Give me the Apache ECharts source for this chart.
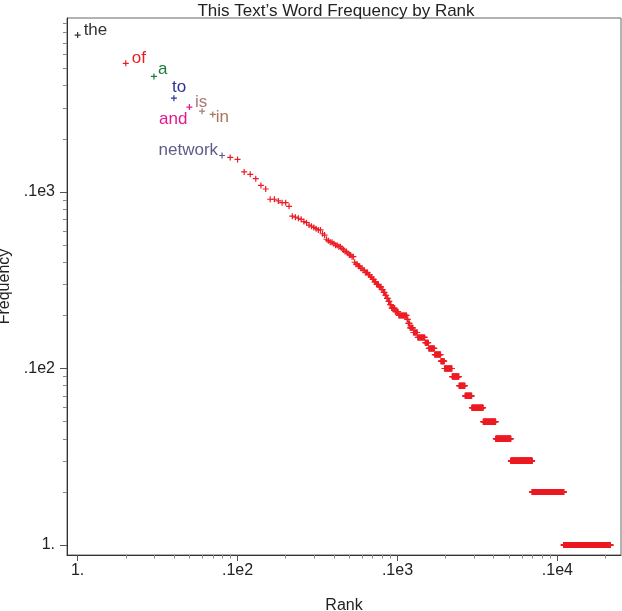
<!DOCTYPE html>
<html>
<head>
<meta charset="utf-8">
<title>This Text's Word Frequency by Rank</title>
<script src="https://cdn.jsdelivr.net/npm/echarts@6/dist/echarts.min.js"></script>
<style>
    html, body { margin: 0; padding: 0; background: #fff; }
    #myChart { width: 622px; height: 611px; }
</style>
</head>
<body>
<div id="myChart"></div>
<script>
/* labelled words, ranks 1..8 */
var topWords = ['the', 'of', 'a', 'to', 'and', 'is', 'in', 'network'];
var topColors = ['#333333', '#ed1c24', '#1b7a3c', '#2e3192', '#e6198a', '#a87878', '#a8745a', '#5d5c8a'];

/* frequency of each word, rank 1 to 91 */
var headFreq = [775, 536, 452, 340, 303, 287, 275, 161, 157, 153, 130, 126, 119, 109, 104, 91, 91, 89, 87, 87, 83,
    73, 72, 71, 70, 68, 67, 65, 64, 63, 62, 61, 61, 58, 57, 54, 53, 52, 52, 51, 50,
    50, 49, 49, 48, 47, 46, 46, 45, 44, 44, 43, 43, 40, 39, 39, 38, 38, 37, 37, 36,
    36, 35, 35, 35, 34, 34, 33, 33, 32, 32, 31, 31, 30, 30, 30, 29, 29, 29, 28, 28,
    27, 27, 26, 26, 25, 25, 24, 24, 23, 23];

/* below that: how many words share each frequency */
var tailFreq = [22, 21, 20, 19, 18, 17, 16, 15, 14, 13, 12, 11, 10, 9, 8, 7, 6, 5, 4, 3, 2, 1];
var tailCount = [5, 5, 13, 2, 3, 6, 8, 15, 8, 14, 16, 10, 23, 23, 22, 27, 52, 68, 100, 184, 400, 1048];

/* ticks */
var majorX = [1, 10, 100, 1000];
var minorX = [2, 3, 4, 5, 6, 7, 8, 9, 20, 30, 40, 50, 60, 70, 80, 90, 200, 300, 400, 500, 600, 700, 800, 900, 2000];
var majorY = [1, 10, 100];
var minorY = [2, 3, 4, 5, 6, 7, 8, 9, 20, 30, 40, 50, 60, 70, 80, 90, 200, 300, 400, 500, 600, 700, 800, 900];

/* where each word label sits next to its point */
var labelPos = ['right', 'right', 'right', 'right', 'left', 'right', 'right', 'left'];
var labelOffset = [[-2, -5], [-2, -5], [-4, -7], [-10, -11], [6, 12], [-15, -9], [-5, 3], [4, -5]];

var FONT = '"Liberation Sans", Arial, Helvetica, sans-serif';
var RED = '#ed1c24';
var PLUS = 'path://M2,0h1v2h2v1h-2v2h-1v-2h-2v-1h2z';

// build the points [rank, freq]
var points = [];
var rank = 1;
headFreq.forEach(function (f, i) {
    var item = {value: [rank, f]};
    if (i < topWords.length) {
        item.itemStyle = {color: topColors[i]};
        item.label = {
            show: true,
            formatter: topWords[i],
            position: labelPos[i],
            distance: 5,
            offset: labelOffset[i],
            color: topColors[i],
            fontSize: 17,
            fontFamily: FONT
        };
    }
    points.push(item);
    rank++;
});
tailFreq.forEach(function (f, i) {
    for (var k = 0; k < tailCount[i]; k++) {
        points.push([rank, f]);
        rank++;
    }
});

function tickText(v) {
    if (Math.abs(v - 1) < 1e-9) return '1.';
    return '.1e' + (Math.round(Math.log(v) / Math.LN10) + 1);
}

var xMin = 0.858, xMax = 2500;
var yMin = 0.878, yMax = 968;

var myChart = echarts.init(document.getElementById('myChart'));
var option = {
    animation: false,
    title: {
        text: 'This Text\u2019s Word Frequency by Rank',
        left: 331,
        top: -2,
        textAlign: 'center',
        textStyle: {fontFamily: FONT, fontSize: 17, fontWeight: 'normal', color: '#222'}
    },
    grid: {
        left: 67, right: 1, top: 18, bottom: 56,
        outerBoundsMode: 'none',
        containLabel: false,
        show: true, borderColor: '#666', borderWidth: 1
    },
    xAxis: [{
        type: 'log', min: xMin, max: xMax, position: 'bottom',
        name: 'Rank', nameLocation: 'middle', nameGap: 43,
        nameTextStyle: {fontFamily: FONT, fontSize: 16, color: '#222'},
        axisLine: {lineStyle: {color: '#333', width: 1}},
        axisTick: {show: true, customValues: majorX, length: 6, lineStyle: {color: '#555'}},
        axisLabel: {customValues: majorX, formatter: tickText, margin: 8,
            fontFamily: FONT, fontSize: 16, color: '#222'},
        splitLine: {show: false}
    }, {
        type: 'log', min: xMin, max: xMax, position: 'bottom',
        axisLine: {show: false},
        axisTick: {show: true, customValues: minorX, length: 3.5, lineStyle: {color: '#888'}},
        axisLabel: {show: false},
        splitLine: {show: false}
    }],
    yAxis: [{
        type: 'log', min: yMin, max: yMax, position: 'left',
        name: 'Frequency', nameLocation: 'middle', nameGap: 54, nameRotate: 90,
        nameTextStyle: {fontFamily: FONT, fontSize: 16, color: '#222'},
        axisLine: {show: true, lineStyle: {color: '#333', width: 1}},
        axisTick: {show: true, customValues: majorY, length: 7, lineStyle: {color: '#555'}},
        axisLabel: {customValues: majorY, formatter: tickText, margin: 12,
            fontFamily: FONT, fontSize: 16, color: '#222'},
        splitLine: {show: false}
    }, {
        type: 'log', min: yMin, max: yMax, position: 'left',
        axisLine: {show: false},
        axisTick: {show: true, customValues: minorY, length: 4, lineStyle: {color: '#888'}},
        axisLabel: {show: false},
        splitLine: {show: false}
    }],
    series: [{
        name: 'words',
        type: 'scatter',
        xAxisIndex: 0,
        yAxisIndex: 0,
        symbol: PLUS,
        symbolSize: 6,
        progressive: 0,
        itemStyle: {color: RED, opacity: 1},
        data: points
    }]
};
myChart.setOption(option);
</script>
</body>
</html>
